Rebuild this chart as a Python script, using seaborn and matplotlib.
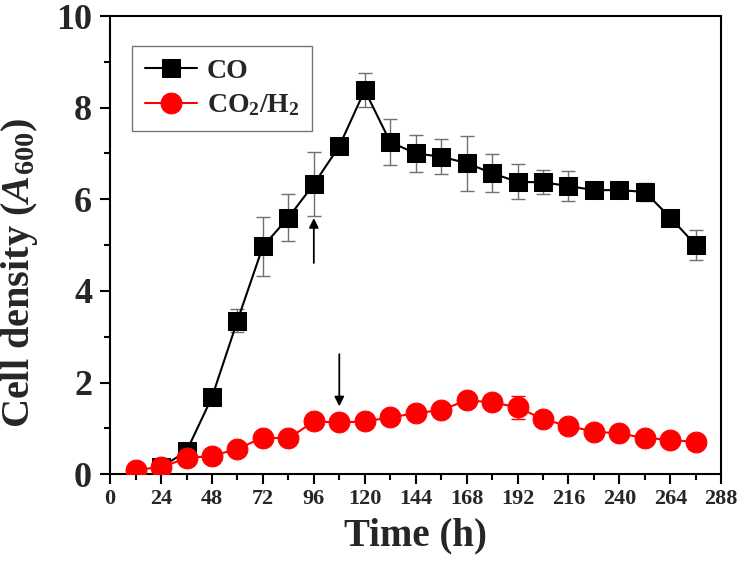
# Growth curves on CO vs CO2/H2 -- recreated with seaborn + matplotlib.

import numpy as np
import pandas as pd
import matplotlib
matplotlib.use('Agg')
import matplotlib.pyplot as plt
from matplotlib.ticker import MultipleLocator
import seaborn as sns

# Data.

co_time = [24, 36, 48, 60, 72, 84, 96, 108, 120, 132, 144, 156, 168, 180,
           192, 204, 216, 228, 240, 252, 264, 276]
co_density = [0.15, 0.5, 1.68, 3.35, 4.97, 5.6, 6.33, 7.16, 8.38, 7.25, 7.0,
              6.93, 6.79, 6.57, 6.38, 6.37, 6.29, 6.2, 6.2, 6.16, 5.6, 5.0]
co_err = [0.05, 0.08, 0.0, 0.25, 0.65, 0.52, 0.7, 0.0, 0.37, 0.5, 0.4, 0.38,
          0.6, 0.42, 0.38, 0.26, 0.32, 0.0, 0.0, 0.2, 0.0, 0.32]

h2_time = [12, 24, 36, 48, 60, 72, 84, 96, 108, 120, 132, 144, 156, 168,
           180, 192, 204, 216, 228, 240, 252, 264, 276]
h2_density = [0.1, 0.15, 0.35, 0.4, 0.55, 0.8, 0.78, 1.15, 1.13, 1.15, 1.24,
              1.33, 1.4, 1.61, 1.57, 1.46, 1.2, 1.05, 0.93, 0.89, 0.79, 0.75,
              0.7]
h2_err = [0.0, 0.05, 0.1, 0.0, 0.0, 0.0, 0.0, 0.0, 0.0, 0.0, 0.0, 0.0, 0.0,
          0.0, 0.0, 0.25, 0.0, 0.0, 0.0, 0.0, 0.0, 0.0, 0.0]

co_df = pd.DataFrame({'time': co_time, 'density': co_density, 'err': co_err})
h2_df = pd.DataFrame({'time': h2_time, 'density': h2_density, 'err': h2_err})

# Style.

sns.set_style('white')
plt.rcParams['font.family'] = ['Liberation Serif', 'DejaVu Serif']
plt.rcParams['font.weight'] = 'bold'
plt.rcParams['mathtext.fontset'] = 'custom'
plt.rcParams['mathtext.rm'] = 'Liberation Serif:bold'
plt.rcParams['mathtext.bf'] = 'Liberation Serif:bold'
plt.rcParams['mathtext.it'] = 'Liberation Serif:italic:bold'
plt.rcParams['mathtext.bfit'] = 'Liberation Serif:italic:bold'

fig, ax = plt.subplots(figsize=(7.39, 5.72), dpi=100)
fig.subplots_adjust(left=0.149, right=0.976, top=0.972, bottom=0.171)

# Error bars first so markers sit on top.

ax.errorbar(co_df['time'], co_df['density'], yerr=co_df['err'], fmt='none',
            ecolor='#707070', elinewidth=1, capsize=5, capthick=1, zorder=2)
ax.errorbar(h2_df['time'], h2_df['density'], yerr=h2_df['err'], fmt='none',
            ecolor='red', elinewidth=1, capsize=5, capthick=1, zorder=2)

sns.lineplot(data=co_df, x='time', y='density', ax=ax, color='black',
             marker='s', markersize=13, markeredgecolor='black', linewidth=1.5,
             label='CO', zorder=3)
sns.lineplot(data=h2_df, x='time', y='density', ax=ax, color='red',
             marker='o', markersize=15, markeredgecolor='red', linewidth=1.5,
             label=r'CO$_\mathbf{2}$/H$_\mathbf{2}$', zorder=4)

# Arrows marking the points of interest.

ax.annotate('', xy=(96, 5.65), xytext=(96, 4.55),
            arrowprops=dict(arrowstyle='-|>', color='black', lw=1.3,
                            mutation_scale=14))
ax.annotate('', xy=(108, 1.42), xytext=(108, 2.68),
            arrowprops=dict(arrowstyle='-|>', color='black', lw=1.3,
                            mutation_scale=14))

# Axes.

ax.set_xlim(0, 288)
ax.set_ylim(0, 10)
ax.xaxis.set_major_locator(MultipleLocator(24))
ax.xaxis.set_minor_locator(MultipleLocator(12))
ax.yaxis.set_major_locator(MultipleLocator(2))
ax.yaxis.set_minor_locator(MultipleLocator(1))
ax.tick_params(axis='both', which='both', direction='out', bottom=True,
               left=True, top=False, right=False, width=1.5, color='black')
ax.tick_params(axis='both', which='major', length=7)
ax.tick_params(axis='both', which='minor', length=4)
ax.tick_params(axis='x', labelsize=16, pad=4)
ax.tick_params(axis='y', labelsize=26, pad=6)
for lab in ax.get_xticklabels() + ax.get_yticklabels():
    lab.set_fontweight('bold')
for spine in ax.spines.values():
    spine.set_linewidth(1.5)
    spine.set_color('black')

ax.set_xlabel('Time (h)', fontsize=28, fontweight='bold', labelpad=6)
ax.set_ylabel(r'Cell density ($\mathbfit{A}_{\mathbf{600}}$)', fontsize=29,
              fontweight='bold')
ax.yaxis.set_label_coords(-0.114, 0.44)

leg = ax.legend(loc='upper left', bbox_to_anchor=(0.036, 0.934),
                borderaxespad=0, fontsize=20, frameon=True, fancybox=False,
                borderpad=0.45, handlelength=1.9, labelspacing=0.3,
                handletextpad=0.35)
leg.get_frame().set_edgecolor('#555555')
leg.get_frame().set_linewidth(1)
for t in leg.get_texts():
    t.set_fontweight('bold')

fig.savefig('out.png', dpi=100)
